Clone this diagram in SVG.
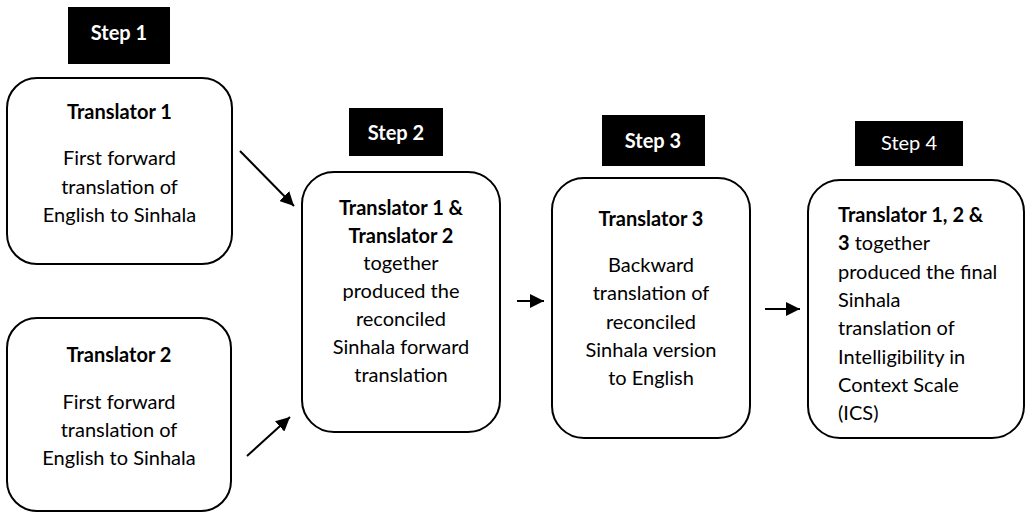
<svg xmlns="http://www.w3.org/2000/svg" width="1026" height="513" viewBox="0 0 1026 513">
<style>
.step{fill:#000}
.stxt{fill:#fff;font-family:Lato,"Open Sans",sans-serif;font-size:20px;font-weight:bold;text-anchor:middle}
.stxt4{font-weight:normal}
.box{fill:#fff;stroke:#000;stroke-width:2}
.t{font-family:Lato,"Open Sans",sans-serif;font-size:20px;fill:#000}
.c{text-anchor:middle}
.b{font-weight:bold}
.conn{stroke:#000;stroke-width:2;fill:none}
</style>
<defs>
<marker id="ah" markerUnits="userSpaceOnUse" markerWidth="15" markerHeight="14" refX="14" refY="7" orient="auto">
<path d="M0,0 L14,7 L0,14 z" fill="#000"/>
</marker>
</defs>
<rect width="1026" height="513" fill="#fff"/>
<g id="step1"><rect class="step" x="68" y="7" width="102" height="57"/><text class="stxt" x="119" y="40">Step 1</text></g>
<g id="step2"><rect class="step" x="349" y="108" width="94" height="48"/><text class="stxt" x="396" y="140">Step 2</text></g>
<g id="step3"><rect class="step" x="602" y="115" width="103" height="51"/><text class="stxt" x="653" y="148">Step 3</text></g>
<g id="step4"><rect class="step" x="855" y="121" width="108" height="45"/><text class="stxt stxt4" x="909" y="150">Step 4</text></g>
<g id="translator1">
<rect class="box" x="7" y="78" width="225" height="186" rx="30"/>
<text class="t c b" x="119.5" y="119">Translator 1</text>
<text class="t c" x="119.5" y="165">First forward</text>
<text class="t c" x="119.5" y="194">translation of</text>
<text class="t c" x="119.5" y="222">English to Sinhala</text>
</g>
<g id="translator2">
<rect class="box" x="7" y="318" width="224" height="193" rx="30"/>
<text class="t c b" x="119" y="362">Translator 2</text>
<text class="t c" x="119" y="409">First forward</text>
<text class="t c" x="119" y="437">translation of</text>
<text class="t c" x="119" y="465">English to Sinhala</text>
</g>
<g id="reconcile">
<rect class="box" x="302" y="172" width="198" height="260" rx="32"/>
<text class="t c b" x="401" y="215">Translator 1 &amp;</text>
<text class="t c b" x="401" y="243">Translator 2</text>
<text class="t c" x="401" y="270">together</text>
<text class="t c" x="401" y="298">produced the</text>
<text class="t c" x="401" y="326">reconciled</text>
<text class="t c" x="401" y="354">Sinhala forward</text>
<text class="t c" x="401" y="382">translation</text>
</g>
<g id="backward">
<rect class="box" x="552" y="178" width="198" height="260" rx="32"/>
<text class="t c b" x="651" y="226">Translator 3</text>
<text class="t c" x="651" y="272">Backward</text>
<text class="t c" x="651" y="300">translation of</text>
<text class="t c" x="651" y="329">reconciled</text>
<text class="t c" x="651" y="357">Sinhala version</text>
<text class="t c" x="651" y="385">to English</text>
</g>
<g id="final">
<rect class="box" x="808" y="180" width="216" height="258" rx="32"/>
<text class="t b" x="838" y="222">Translator 1, 2 &amp;</text>
<text class="t" x="838" y="250"><tspan class="b">3</tspan> together</text>
<text class="t" x="838" y="279">produced the final</text>
<text class="t" x="838" y="307">Sinhala</text>
<text class="t" x="838" y="335">translation of</text>
<text class="t" x="838" y="364">Intelligibility in</text>
<text class="t" x="838" y="392">Context Scale</text>
<text class="t" x="838" y="420">(ICS)</text>
</g>
<g id="connectors">
<line class="conn" x1="240" y1="151" x2="294" y2="206" marker-end="url(#ah)"/>
<line class="conn" x1="247" y1="456" x2="290" y2="417" marker-end="url(#ah)"/>
<line class="conn" x1="517" y1="301" x2="544" y2="301" marker-end="url(#ah)"/>
<line class="conn" x1="765" y1="309" x2="800" y2="309" marker-end="url(#ah)"/>
</g>
</svg>
